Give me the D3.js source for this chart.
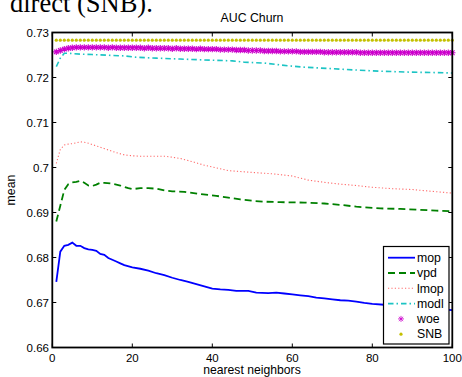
<!DOCTYPE html>
<html><head><meta charset="utf-8">
<script src="https://cdn.jsdelivr.net/npm/d3@7"></script>
<style>body{margin:0;background:#fff}svg{display:block}text{font-family:"Liberation Sans",Arial,sans-serif}</style>
</head><body><svg id="c" width="462" height="377"></svg>
<script>
const seriesNames = ["mop","vpd","lmop","modl","woe","SNB"];
const xTicks = [0,20,40,60,80,100];
const yTicks = [0.66,0.67,0.68,0.69,0.70,0.71,0.72,0.73];
const yTickLabels = ["0.66","0.67","0.68","0.69","0.7","0.71","0.72","0.73"];

const mopK = [1,2,3,4,5,6,7,8,9,10,11,12,13,14,15,16,17,18,20,22,24,26,28,30,32,34,36,38,40,42,44,46,48,49,51,54,56,58,60,62,64,66,68,70,72,74,76,78,80,83,87,91,95,100];
const mopV = [0.6746,0.6813,0.6826,0.6828,0.6833,0.6826,0.6826,0.6821,0.6818,0.6817,0.6815,0.6808,0.6806,0.6799,0.6795,0.6791,0.6787,0.6783,0.6778,0.6775,0.6771,0.6765,0.6761,0.6755,0.6750,0.6746,0.6741,0.6736,0.6731,0.6729,0.6728,0.6726,0.6726,0.6726,0.6722,0.6721,0.6722,0.6720,0.6718,0.6716,0.6714,0.6711,0.6709,0.6707,0.6705,0.6704,0.6702,0.6699,0.6697,0.6695,0.6692,0.6689,0.6686,0.6683];

const vpdK = [1,2,3,4,5,6,7,8,9,10,11,12,13,15,17,19,20,22,24,26,28,30,33,37,41,44,47,50,53,57,63,68,72,76,82,87,92,96,100];
const vpdV = [0.6880,0.6915,0.6950,0.6963,0.6967,0.6968,0.6970,0.6966,0.6960,0.6959,0.6962,0.6966,0.6966,0.6964,0.6960,0.6954,0.6952,0.6954,0.6954,0.6953,0.6949,0.6947,0.6946,0.6941,0.6937,0.6933,0.6929,0.6926,0.6924,0.6923,0.6922,0.6920,0.6917,0.6913,0.6909,0.6908,0.6906,0.6904,0.6903];

const lmopK = [1,2,3,4,5,6,7,8,9,10,12,14,16,18,20,22,25,28,30,32,35,38,41,44,47,50,55,60,64,68,72,76,80,85,90,95,100];
const lmopV = [0.7009,0.7040,0.7050,0.7052,0.7053,0.7055,0.7057,0.7056,0.7054,0.7051,0.7045,0.7039,0.7033,0.7028,0.7026,0.7025,0.7025,0.7025,0.7023,0.7020,0.7013,0.7005,0.6999,0.6993,0.6991,0.6989,0.6986,0.6981,0.6972,0.6967,0.6963,0.6960,0.6956,0.6953,0.6951,0.6947,0.6943];

const modlK = [1,2,3,4,5,7,10,15,18,21,26,32,38,45,48,53,59,63,69,75,82,89,95,100];
const modlV = [0.7224,0.7243,0.7254,0.7254,0.7253,0.7252,0.7251,0.7249,0.7248,0.7245,0.7243,0.7241,0.7239,0.7237,0.7234,0.7232,0.7226,0.7223,0.7220,0.7217,0.7214,0.7212,0.7211,0.7210];

const woeV = [0.7257,0.7260,0.7263,0.7265,0.7266,0.7267,0.7267,0.7267,0.7267,0.7267,
0.7267,0.7267,0.7267,0.7266,0.7267,0.7266,0.7266,0.7266,0.7266,0.7266,
0.7266,0.7266,0.7265,0.7266,0.7265,0.7265,0.7265,0.7265,0.7265,0.7264,
0.7265,0.7264,0.7264,0.7264,0.7264,0.7263,0.7264,0.7263,0.7263,0.7263,
0.7263,0.7262,0.7262,0.7262,0.7262,0.7261,0.7261,0.7261,0.7260,0.7260,
0.7260,0.7260,0.7259,0.7259,0.7259,0.7259,0.7258,0.7258,0.7258,0.7258,
0.7258,0.7257,0.7257,0.7257,0.7257,0.7257,0.7257,0.7256,0.7256,0.7256,
0.7256,0.7256,0.7256,0.7256,0.7256,0.7256,0.7255,0.7255,0.7255,0.7255,
0.7255,0.7255,0.7255,0.7255,0.7255,0.7255,0.7255,0.7255,0.7255,0.7255,
0.7255,0.7255,0.7255,0.7255,0.7255,0.7255,0.7255,0.7255,0.7255,0.7255];

const snbV = [0.7283,0.7283,0.7283,0.7283,0.7283,0.7283,0.7283,0.7283,0.7283,0.7283,
0.7283,0.7283,0.7283,0.7283,0.7283,0.7283,0.7283,0.7283,0.7283,0.7283,
0.7283,0.7283,0.7283,0.7283,0.7283,0.7283,0.7283,0.7283,0.7283,0.7283,
0.7283,0.7283,0.7283,0.7283,0.7283,0.7283,0.7283,0.7283,0.7283,0.7283,
0.7283,0.7283,0.7283,0.7283,0.7283,0.7283,0.7283,0.7283,0.7283,0.7283,
0.7283,0.7283,0.7283,0.7283,0.7283,0.7283,0.7283,0.7283,0.7283,0.7283,
0.7283,0.7283,0.7283,0.7283,0.7283,0.7283,0.7283,0.7283,0.7283,0.7283,
0.7283,0.7283,0.7283,0.7283,0.7283,0.7283,0.7283,0.7283,0.7283,0.7283,
0.7283,0.7283,0.7283,0.7283,0.7283,0.7283,0.7283,0.7283,0.7283,0.7283,
0.7283,0.7283,0.7283,0.7283,0.7283,0.7283,0.7283,0.7283,0.7283,0.7283];

const svg = d3.select("#c");
const L = 52.3, R = 452.3, T = 32.5, B = 347.5;
const x = d3.scaleLinear().domain([0,100]).range([L,R]);
const y = d3.scaleLinear().domain([0.66,0.73]).range([B,T]);

// stray document text at top
svg.append("text").attr("x",10).attr("y",12).style("font-family","'Liberation Serif','Times New Roman',serif")
  .style("font-size","26.5px").text("direct (SNB).");

const colors = {mop:"#0000ff",vpd:"#008000",lmop:"#ff6a6a",modl:"#1cc4c4",woe:"#cc00cc",SNB:"#c4c000"};
const styles = {
  mop:{w:1.8,dash:null},
  vpd:{w:1.8,dash:"7,4"},
  lmop:{w:1.1,dash:"1.2,2.2"},
  modl:{w:1.6,dash:"5.5,3,1.5,3"}
};

const line = d3.line().x(d=>x(d[0])).y(d=>y(d[1]));
const lineData = {
  mop: d3.zip(mopK,mopV), vpd: d3.zip(vpdK,vpdV), lmop: d3.zip(lmopK,lmopV), modl: d3.zip(modlK,modlV)
};
const ks = d3.range(1,101);

const g = svg.append("g");
["mop","vpd","lmop","modl"].forEach(n=>{
  g.append("path").attr("d",line(lineData[n])).attr("fill","none")
   .attr("stroke",colors[n]).attr("stroke-width",styles[n].w)
   .attr("stroke-dasharray",styles[n].dash);
});

function star(sel,cx,cy,r,col,w){
  const a = r*0.72;
  const p = `M${cx-r},${cy}L${cx+r},${cy}M${cx},${cy-r}L${cx},${cy+r}M${cx-a},${cy-a}L${cx+a},${cy+a}M${cx-a},${cy+a}L${cx+a},${cy-a}`;
  sel.append("path").attr("d",p).attr("stroke",col).attr("stroke-width",w).attr("fill","none");
}
ks.forEach((k,i)=>star(g,x(k),y(woeV[i]),3.2,colors.woe,1.1));
g.selectAll("circle.snb").data(ks).enter().append("circle").attr("class","snb")
  .attr("cx",k=>x(k)).attr("cy",(k,i)=>y(snbV[i])).attr("r",1.6).attr("fill",colors.SNB);

// box + ticks
const ax = svg.append("g");
ax.append("rect").attr("x",L).attr("y",T).attr("width",R-L).attr("height",B-T)
  .attr("fill","none").attr("stroke","#000").attr("stroke-width",1.8);
xTicks.forEach(t=>{
  ax.append("line").attr("x1",x(t)).attr("x2",x(t)).attr("y1",B).attr("y2",B-4).attr("stroke","#000");
  ax.append("line").attr("x1",x(t)).attr("x2",x(t)).attr("y1",T).attr("y2",T+4).attr("stroke","#000");
  ax.append("text").attr("x",x(t)).attr("y",361.5).attr("text-anchor","middle").style("font-size","11.5px").text(t);
});
yTicks.forEach((t,i)=>{
  ax.append("line").attr("x1",L).attr("x2",L+4).attr("y1",y(t)).attr("y2",y(t)).attr("stroke","#000");
  ax.append("line").attr("x1",R).attr("x2",R-4).attr("y1",y(t)).attr("y2",y(t)).attr("stroke","#000");
  ax.append("text").attr("x",49).attr("y",y(t)+4).attr("text-anchor","end").style("font-size","11.5px").text(yTickLabels[i]);
});
svg.append("text").attr("x",252).attr("y",21.7).attr("text-anchor","middle").style("font-size","12.3px").text("AUC Churn");
svg.append("text").attr("x",252).attr("y",374).attr("text-anchor","middle").style("font-size","12.2px").text("nearest neighbors");
svg.append("text").attr("transform","translate(15,190) rotate(-90)").attr("text-anchor","middle").style("font-size","12.3px").text("mean");

// legend
const lg = svg.append("g");
lg.append("rect").attr("x",383.5).attr("y",246.5).attr("width",65.5).attr("height",97.5)
  .attr("fill","#fff").attr("stroke","#000").attr("stroke-width",1.2);
seriesNames.forEach((n,i)=>{
  const cy = 257.7 + i*15.3;
  if (styles[n]) {
    lg.append("line").attr("x1",388).attr("x2",415).attr("y1",cy).attr("y2",cy)
      .attr("stroke",colors[n]).attr("stroke-width",styles[n].w).attr("stroke-dasharray",styles[n].dash);
  } else if (n==="woe") {
    star(lg,401,cy,3,colors.woe,0.8);
  } else {
    lg.append("circle").attr("cx",401).attr("cy",cy).attr("r",1.6).attr("fill",colors.SNB);
  }
  lg.append("text").attr("x",417).attr("y",cy+4.2).style("font-size","12.3px").text(n);
});
</script></body></html>
